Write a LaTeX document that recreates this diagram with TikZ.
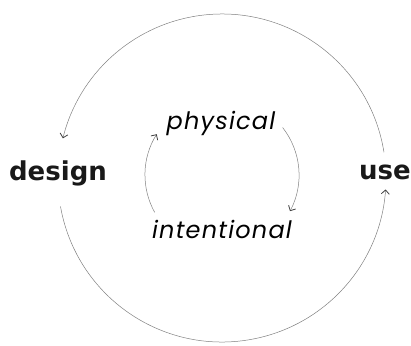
\documentclass[tikz,border=0pt]{standalone}
\usepackage{fontspec}
\setmainfont{DejaVu Sans}
\newfontfamily\innerfont{Poppins}[LetterSpace=5]
\usetikzlibrary{arrows.meta}
\tikzset{
  conn/.style={draw=black!50, line width=0.5pt, -{Straight Barb[length=4pt,width=8pt,line width=0.8pt,color=black!75]}},
  outerlabel/.style={font=\bfseries\fontsize{26}{30}\selectfont, anchor=base, inner sep=0pt, text=black!90},
  innerlabel/.style={font=\innerfont\itshape\fontsize{24}{28}\selectfont, anchor=base, inner sep=0pt, text=black}
}
\begin{document}
\begin{tikzpicture}[x=1pt,y=-1pt]
\useasboundingbox (0,0) rectangle (411,345);
\coordinate (oc) at (222,178);
\coordinate (ic) at (222,175);
\node[outerlabel] (design) at (58,180) {design};
\node[outerlabel] (use) at (385,179) {use};
\node[innerlabel] (physical) at (221,129) {physical};
\node[innerlabel] (intentional) at (222,238) {intentional};
\draw[conn] ([shift={(170:164)}]oc) arc[start angle=170, end angle=4, radius=164];
\draw[conn] ([shift={(-9:164)}]oc) arc[start angle=-9, end angle=-166, radius=164];
\draw[conn] ([shift={(-38:77)}]ic) arc[start angle=-38, end angle=28, radius=77];
\draw[conn] ([shift={(151:77)}]ic) arc[start angle=151, end angle=212, radius=77];
\end{tikzpicture}
\end{document}
